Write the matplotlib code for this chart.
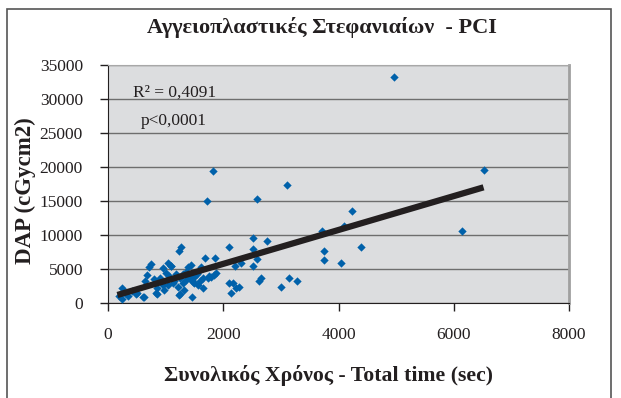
import matplotlib.pyplot as plt
from matplotlib.patches import Rectangle

# data
time_sec = [4960, 6520, 6140, 4230, 4100, 3715, 3755, 3755, 4035, 4385,
            1830, 1720, 3105, 2585, 2515, 2758, 2100, 2520, 2586, 2515,
            2305, 2205, 1690, 1860, 1612, 2656, 2615, 3137, 3280, 3000,
            2104, 2176, 2270, 2221, 2140, 1652, 1641, 1729, 1843,
            1264, 1230, 743, 705, 1033, 946, 1100, 1003, 685, 800,
            640, 917, 1033, 1120, 1207, 1294, 859, 830, 626, 500,
            355, 240, 191, 245, 1235, 1320, 1456, 1381, 1438, 1496,
            1409, 1468, 1555, 1790, 1873, 1757, 1351, 1090, 974, 859,
            482, 616, 1247, 1350, 1400, 1450, 1500, 1550, 1300, 1250,
            1600, 1150, 1180, 900, 1060, 1500, 1600, 950, 300, 420]
dap = [33300, 19500, 10650, 13600, 11350, 10630, 7700, 6280, 5950, 8280,
       19460, 15050, 17400, 15300, 9510, 9160, 8280, 7950, 6520, 5400,
       5930, 5420, 6570, 6600, 5340, 3630, 3240, 3630, 3280, 2400,
       3000, 2990, 2400, 2160, 1500, 2160, 3630, 3720, 4120,
       8280, 7650, 5690, 5340, 5950, 5100, 5400, 4370, 4150, 3550,
       3200, 3130, 2650, 2900, 2400, 2900, 2160, 1430, 930, 1400,
       1000, 2200, 1050, 600, 1180, 1910, 930, 5340, 5590, 4370,
       3630, 3130, 2650, 3870, 4370, 4000, 3380, 5450, 1910, 1320,
       1320, 930, 1320, 4600, 4000, 3400, 3800, 4200, 4200, 3700,
       4800, 3300, 4200, 3700, 4000, 3000, 3300, 2600, 1500, 1700]

# linear trend line end points as drawn
trend_x = [164, 6517]
trend_y = [1180, 17010]

x_ticks = [0, 2000, 4000, 6000, 8000]
y_ticks = [0, 5000, 10000, 15000, 20000, 25000, 30000, 35000]

plt.rcParams['font.family'] = ['Liberation Serif', 'DejaVu Serif']

fig = plt.figure(figsize=(6.21, 3.98), dpi=100)
fig.patches.append(Rectangle((7 / 621, -0.05), 604 / 621, 1 - 9 / 398 + 0.05,
                             transform=fig.transFigure, fill=False,
                             edgecolor='#555555', linewidth=1.2))

ax = fig.add_axes([108 / 621, 1 - 303 / 398, 461 / 621, 238 / 398])
ax.set_facecolor('#DCDDDF')

ax.scatter(time_sec, dap, marker='D', s=18, color='#0061AA', zorder=3,
           linewidths=0)
ax.plot(trend_x, trend_y, color='#231F20', linewidth=4.5, zorder=4,
        solid_capstyle='butt')

ax.set_xlim(0, 8000)
ax.set_ylim(0, 35000)
ax.set_xticks(x_ticks)
ax.set_yticks(y_ticks)
ax.grid(axis='y', color='#6E6E6E', linewidth=1.0)
ax.set_axisbelow(True)

ax.spines['left'].set_color('#231F20')
ax.spines['bottom'].set_color('#231F20')
ax.spines['top'].set_color('#A8A8A8')
ax.spines['right'].set_color('#A0A0A0')
ax.spines['right'].set_linewidth(2)
ax.tick_params(direction='out', length=6, width=1, colors='#231F20',
               labelsize=12.5)
ax.tick_params(axis='x', pad=11)
ax.tick_params(axis='y', pad=12)

ax.text(0.055, 0.885, 'R² = 0,4091', transform=ax.transAxes, fontsize=12.5,
        color='#231F20', va='center')
ax.text(0.071, 0.765, 'p<0,0001', transform=ax.transAxes, fontsize=12.5,
        color='#231F20', va='center')

fig.text(322 / 621, 1 - 28 / 398, 'Αγγειοπλαστικές Στεφανιαίων  - PCI',
         ha='center', va='center', fontsize=16, fontweight='bold',
         color='#231F20')
fig.text(328 / 621, 1 - 375 / 398, 'Συνολικός Χρόνος - Total time (sec)',
         ha='center', va='center', fontsize=15.7, fontweight='bold',
         color='#231F20')
fig.text(25 / 621, 1 - 191 / 398, 'DAP (cGycm2)', ha='center', va='center',
         rotation=90, fontsize=16.5, fontweight='bold', color='#231F20')

fig.savefig('out.png', dpi=100)
